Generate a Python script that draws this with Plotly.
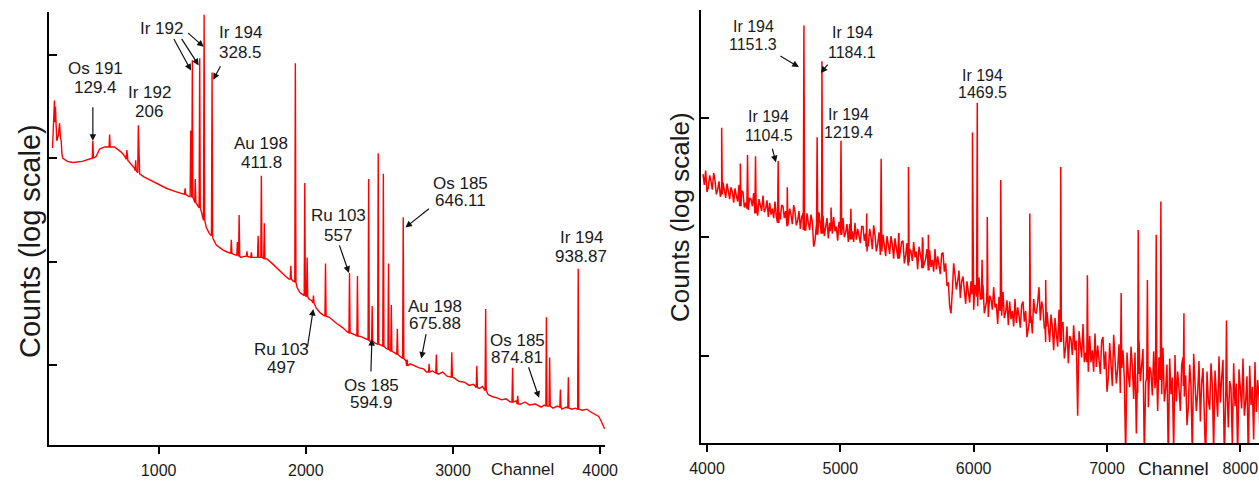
import plotly.graph_objects as go

# ---------------- DATA (channel, log10 counts) ----------------
# Left panel: continuum
left_bg_channel = [279, 286, 292, 296, 299, 304, 308, 318, 327, 333, 338, 343, 349, 380, 417, 480,
                   542, 576, 599, 633, 700, 746, 770, 791, 815, 837, 871, 900, 939, 1000, 1052,
                   1110, 1166, 1205, 1240, 1262, 1293, 1324, 1345, 1370, 1392, 1420, 1438, 1470,
                   1510, 1560, 1580, 1650, 1690, 1740, 1780, 1820, 1860, 1885, 1915, 1940, 1960,
                   1980, 2020, 2040, 2070, 2100, 2160, 2210, 2250, 2280, 2320, 2380, 2410, 2440,
                   2470, 2510, 2545, 2600, 2640, 2680, 2710, 2740, 2770, 2800, 2820, 2860, 2900,
                   2930, 2960, 3010, 3040, 3080, 3110, 3140, 3180, 3200, 3240, 3270, 3300, 3330,
                   3360, 3390, 3430, 3460, 3490, 3520, 3560, 3600, 3620, 3680, 3710, 3740, 3770,
                   3810, 3830, 3880, 3910, 3940, 3970, 3990, 4005, 4020, 4030]
left_bg_log_counts = [3.10, 3.30, 3.56, 3.35, 3.50, 3.30, 3.17, 3.22, 3.34, 3.20, 3.17, 3.04, 3.00,
                      2.97, 2.96, 2.97, 3.00, 3.02, 3.09, 3.11, 3.11, 3.06, 3.02, 2.98, 2.94, 2.90,
                      2.85, 2.82, 2.79, 2.75, 2.71, 2.68, 2.66, 2.63, 2.60, 2.55, 2.47, 2.33, 2.27,
                      2.22, 2.16, 2.13, 2.11, 2.09, 2.07, 2.04, 2.05, 2.04, 2.04, 2.02, 1.97, 1.91,
                      1.86, 1.83, 1.81, 1.75, 1.70, 1.68, 1.64, 1.62, 1.55, 1.50, 1.46, 1.40, 1.36,
                      1.32, 1.30, 1.27, 1.25, 1.22, 1.21, 1.19, 1.16, 1.12, 1.08, 1.04, 1.01, 0.99,
                      0.97, 0.96, 0.93, 0.94, 0.91, 0.93, 0.89, 0.87, 0.84, 0.83, 0.80, 0.81, 0.77,
                      0.79, 0.71, 0.69, 0.68, 0.66, 0.67, 0.64, 0.65, 0.62, 0.64, 0.61, 0.62, 0.59,
                      0.61, 0.58, 0.60, 0.57, 0.59, 0.57, 0.58, 0.56, 0.57, 0.54, 0.52, 0.50, 0.46,
                      0.42, 0.38]
# Left panel: peaks (channel, top, foot)
left_peak_channel = [553, 667, 784, 844, 862, 1180, 1218, 1229, 1249, 1279, 1309, 1363, 1494, 1535,
                     1547, 1600, 1630, 1676, 1698, 1718, 1898, 1929, 1993, 2009, 2052, 2134, 2297,
                     2351, 2427, 2451, 2492, 2527, 2562, 2581, 2622, 2662, 2689, 2838, 2887, 2992,
                     3162, 3222, 3405, 3440, 3635, 3657, 3730, 3784, 3851]
left_peak_log_top = [3.17, 3.23, 3.08, 2.98, 3.32, 2.71, 3.27, 3.95, 2.80, 3.97, 4.39, 3.83, 2.21,
                     2.19, 2.45, 2.10, 2.09, 2.25, 2.83, 2.37, 1.96, 3.92, 2.76, 2.04, 1.67, 1.98,
                     1.89, 1.86, 2.80, 1.57, 3.05, 2.85, 1.98, 1.58, 1.35, 2.43, 1.05, 1.01, 1.10,
                     1.12, 0.99, 1.54, 0.97, 0.70, 1.46, 1.07, 0.76, 0.88, 1.93]
left_peak_log_base = [3.00, 3.11, 2.99, 2.88, 2.86, 2.65, 2.63, 2.62, 2.57, 2.52, 2.40, 2.25, 2.08,
                      2.06, 2.05, 2.05, 2.04, 2.04, 2.04, 2.03, 1.83, 1.80, 1.67, 1.66, 1.60, 1.47,
                      1.31, 1.28, 1.24, 1.23, 1.20, 1.18, 1.15, 1.13, 1.10, 1.06, 0.99, 0.93, 0.92,
                      0.88, 0.78, 0.75, 0.64, 0.62, 0.60, 0.60, 0.59, 0.58, 0.57]

# Right panel: noisy continuum, one reading every 10 channels from 3970 to 8160
right_bg_first, right_bg_last, right_bg_step = 3970, 8160, 10
right_bg_log_counts = [
    2.53, 2.44, 2.56, 2.38, 2.42, 2.52, 2.47, 2.40, 2.54, 2.48, 2.36, 2.40, 2.47, 2.34, 2.43, 2.46, 2.38, 2.33, 2.45, 2.39,
    2.32, 2.42, 2.38, 2.29, 2.41, 2.35, 2.30, 2.44, 2.34, 2.39, 2.38, 2.25, 2.29, 2.37, 2.23, 2.33, 2.32, 2.26, 2.37, 2.28,
    2.29, 2.18, 2.32, 2.27, 2.22, 2.35, 2.21, 2.24, 2.31, 2.17, 2.29, 2.19, 2.24, 2.16, 2.30, 2.17, 2.26, 2.21, 2.15, 2.27,
    2.26, 2.16, 2.22, 2.09, 2.13, 2.24, 2.19, 2.11, 2.27, 2.21, 2.10, 2.14, 2.22, 2.07, 2.17, 2.20, 2.11, 2.06, 2.20, 2.12,
    2.06, 2.19, 2.13, 1.92, 1.97, 2.10, 2.04, 2.21, 2.08, 2.15, 2.18, 2.01, 2.07, 2.16, 1.99, 2.12, 2.10, 2.03, 2.17, 2.05,
    2.09, 1.97, 2.13, 2.07, 2.02, 2.16, 2.00, 2.04, 2.11, 1.96, 2.11, 2.00, 2.05, 1.96, 2.12, 1.98, 2.07, 2.02, 1.95, 2.09,
    2.09, 1.97, 2.03, 1.88, 1.93, 2.07, 2.00, 1.90, 2.10, 2.02, 1.88, 1.94, 2.04, 1.85, 1.97, 2.02, 1.91, 1.84, 2.01, 1.92,
    1.86, 2.01, 1.94, 1.82, 1.99, 1.91, 1.84, 2.03, 1.89, 1.96, 1.97, 1.78, 1.85, 1.95, 1.76, 1.90, 1.88, 1.80, 1.96, 1.83,
    1.88, 1.73, 1.92, 1.85, 1.79, 1.96, 1.77, 1.82, 1.90, 1.72, 1.89, 1.75, 1.81, 1.71, 1.90, 1.73, 1.84, 1.78, 1.69, 1.86,
    1.87, 1.71, 1.78, 1.59, 1.62, 1.42, 1.36, 1.55, 1.78, 1.68, 1.56, 1.63, 1.72, 1.49, 1.63, 1.67, 1.53, 1.44, 1.63, 1.51,
    1.45, 1.63, 1.55, 1.39, 1.60, 1.51, 1.42, 1.66, 1.48, 1.58, 1.60, 1.36, 1.44, 1.57, 1.33, 1.51, 1.48, 1.39, 1.58, 1.41,
    1.44, 1.27, 1.50, 1.41, 1.34, 1.54, 1.32, 1.37, 1.47, 1.26, 1.46, 1.31, 1.38, 1.25, 1.48, 1.28, 1.41, 1.34, 1.24, 1.43,
    1.46, 1.29, 1.38, 1.16, 1.24, 1.43, 1.34, 1.19, 1.48, 1.37, 1.36, 1.45, 1.58, 1.30, 1.46, 1.40, 1.23, 1.12, 1.37, 1.23,
    1.12, 1.35, 1.25, 1.05, 1.32, 1.19, 1.08, 1.39, 1.16, 1.28, 1.28, 0.98, 1.08, 1.25, 0.94, 1.17, 1.14, 1.01, 1.26, 1.05,
    1.13, 0.50, 1.21, 1.09, 0.99, 1.27, 0.95, 1.03, 1.17, 0.87, 1.17, 0.95, 1.05, 0.87, 1.19, 0.91, 1.09, 0.99, 0.85, 1.13,
    1.16, 0.89, 1.04, 0.70, 0.82, 1.11, 0.96, 0.75, 1.18, 1.01, 0.77, 0.89, 1.10, 0.69, 0.96, 1.05, 0.81, 0.15, 1.03, 0.84,
    0.74, 1.08, 0.92, 0.64, 1.03, 0.35, 0.69, 1.13, 0.79, 0.97, 1.06, 0.15, 0.78, 1.01, 0.57, 0.91, 0.86, 0.67, 1.04, 0.73,
    0.87, 0.54, 0.99, 0.82, 0.68, 1.07, 0.62, 0.73, 0.93, 0.10, 0.98, 0.68, 0.82, 0.20, 1.01, 0.62, 0.87, 0.73, 0.54, 0.93,
    0.99, 0.66, 0.84, 0.42, 0.57, 0.93, 0.75, 0.15, 1.02, 0.81, 0.54, 0.69, 0.96, 0.45, 0.78, 0.90, 0.60, 0.10, 0.87, 0.63,
    0.55, 0.94, 0.76, 0.20, 0.88, 0.67, 0.49, 1.00, 0.61, 0.82, 0.97, 0.12, 0.64, 0.91, 0.40, 0.79, 0.73, 0.25, 0.94, 0.58,
    0.77, 0.15, 0.89, 0.71, 0.56, 0.98, 0.50, 0.62, 0.83, 0.10, 0.92, 0.59, 0.74, 0.30, 0.95, 0.53, 0.80, 0.65, 0.20, 0.86,
]
right_peak_channel = [4110, 4250, 4304, 4364, 4534, 4602, 4727, 4826, 4862, 4930, 5005, 5079, 5198,
                      5306, 5437, 5511, 5616, 5660, 5991, 6027, 6063, 6102, 6203, 6421, 6540, 6653,
                      6853, 7106, 7234, 7303, 7369, 7404, 7577, 7896]
right_peak_log_top = [2.92, 2.62, 2.69, 2.68, 2.64, 2.42, 3.78, 2.84, 3.48, 2.25, 2.81, 2.24, 2.20,
                      2.66, 2.03, 2.59, 2.00, 2.02, 2.88, 3.13, 1.81, 2.17, 2.48, 2.20, 1.64, 2.59,
                      1.68, 1.53, 2.06, 1.64, 2.02, 2.30, 1.36, 1.30]
right_peak_log_base = [2.36, 2.26, 2.24, 2.20, 2.12, 2.10, 2.06, 2.02, 2.03, 2.05, 2.02, 1.98, 1.92,
                       1.88, 1.82, 1.79, 1.74, 1.72, 1.52, 1.50, 1.48, 1.46, 1.38, 1.28, 1.25, 1.12,
                       0.95, 0.90, 0.85, 0.82, 0.80, 0.80, 0.75, 0.70]

# Peak labels
left_label_nuclide = ["Os 191", "Ir 192", "Ir 194", "Au 198", "Ru 103", "Os 185", "Ir 194",
                      "Au 198", "Os 185", "Ru 103", "Os 185"]
left_label_energy = ["129.4", "206", "328.5", "411.8", "557", "646.11", "938.87",
                     "675.88", "874.81", "497", "594.9"]
left_arrow_channel = [553, None, 1371, None, 2293, 2677, None, 2785, 3585, 2051, 2449]
left_arrow_log_counts = [3.17, None, 3.76, None, 1.89, 2.33, None, 1.06, 0.68, 1.54, 1.25]
# the lone "Ir 192" label pointing at three peaks
ir192_arrow_channel = [1220, 1272, 1306]
ir192_arrow_log_counts = [3.85, 3.90, 4.08]

right_label_nuclide = ["Ir 194", "Ir 194", "Ir 194", "Ir 194", "Ir 194"]
right_label_energy = ["1151.3", "1184.1", "1104.5", "1219.4", "1469.5"]
right_arrow_channel = [4689, 4854, 4517, None, None]
right_arrow_log_counts = [3.43, 3.38, 2.63, None, None]

left_xticks = [1000, 2000, 3000, 4000]
right_xticks = [4000, 5000, 6000, 7000, 8000]
left_yticks = [10, 100, 1000, 10000]
right_yticks = [10, 100, 1000]

# ---------------- BUILD SPECTRA ----------------
def build(bg_ch, bg_l, pk_ch, pk_top, pk_base, half):
    pts = [(c, l) for c, l in zip(bg_ch, bg_l)]
    for c, t, b in zip(pk_ch, pk_top, pk_base):
        pts += [(c - half, b), (c, t), (c + half, b)]
    pts.sort(key=lambda p: p[0])
    return [p[0] for p in pts], [10 ** p[1] for p in pts]

lx, ly = build(left_bg_channel, left_bg_log_counts, left_peak_channel,
               left_peak_log_top, left_peak_log_base, 4)
right_bg_channel = list(range(right_bg_first, right_bg_last + 1, right_bg_step))
rx, ry = build(right_bg_channel, right_bg_log_counts, right_peak_channel,
               right_peak_log_top, right_peak_log_base, 5)

W, H = 1259, 481
RED = "#ff0000"
FONT = "Liberation Sans, Arial, sans-serif"
TXT = "#1a1a1a"

fig = go.Figure()
fig.add_trace(go.Scatter(x=lx, y=ly, mode="lines", line=dict(color=RED, width=1.4),
                         xaxis="x", yaxis="y", hoverinfo="skip", showlegend=False))
fig.add_trace(go.Scatter(x=rx, y=ry, mode="lines", line=dict(color=RED, width=1.5),
                         xaxis="x2", yaxis="y2", hoverinfo="skip", showlegend=False))

def px2paper(x, y):
    return x / W, 1 - y / H

axis_common = dict(showline=True, linecolor="black", linewidth=2, showgrid=False,
                   zeroline=False, mirror=False, tickcolor="black", tickwidth=2,
                   automargin=False)

fig.update_layout(
    width=W, height=H, margin=dict(l=0, r=0, t=0, b=0, pad=0, autoexpand=False),
    paper_bgcolor="white", plot_bgcolor="white", showlegend=False,
    font=dict(family=FONT, color=TXT),
    xaxis=dict(domain=[49 / W, 605 / W], range=[255, 4033], tickvals=left_xticks,
               ticks="outside", ticklen=7, tickfont=dict(size=16, color=TXT),
               ticklabelstandoff=3, anchor="y", **axis_common),
    yaxis=dict(domain=[(H - 445) / H, (H - 12) / H], type="log", range=[0.223, 4.417],
               tickvals=left_yticks, ticks="inside", ticklen=8, showticklabels=False,
               anchor="x", **axis_common),
    xaxis2=dict(domain=[701 / W, 1.0], range=[3955, 8140], tickvals=right_xticks,
                ticks="outside", ticklen=7, tickfont=dict(size=16, color=TXT),
                ticklabelstandoff=3, anchor="y2", **axis_common),
    yaxis2=dict(domain=[(H - 443) / H, (H - 10) / H], type="log", range=[0.27, 3.91],
                tickvals=right_yticks, ticks="inside", ticklen=8, showticklabels=False,
                anchor="x2", **axis_common),
)

ann = []
def text_ann(s, x, y, size):
    px, py = px2paper(x, y)
    ann.append(dict(text=s, x=px, y=py, xref="paper", yref="paper", showarrow=False,
                    xanchor="center", yanchor="middle", font=dict(size=size, color=TXT, family=FONT)))

def arrow_ann(ch, logc, ax, ay, xr, yr):
    ann.append(dict(text="", x=ch, y=logc, xref=xr, yref=yr, showarrow=True, ax=ax, ay=ay,
                    arrowhead=2, arrowsize=1.1, arrowwidth=1.2, arrowcolor="#111"))

# axis titles
text_ann("Channel", 522, 469, 17)
text_ann("Channel", 1173, 468, 19)
for x, y, size in [(30, 241, 29), (680, 217, 26)]:
    px, py = px2paper(x, y)
    ann.append(dict(text="Counts (log scale)", x=px, y=py, xref="paper", yref="paper",
                    showarrow=False, textangle=-90, xanchor="center", yanchor="middle",
                    font=dict(size=size, color=TXT, family=FONT)))

left_text_pos = [(95, 68, 87), (149, 93, 111), (240, 33, 52), (261, 143, 162), (338, 215, 235),
                 (460, 183, 200), (581, 237, 256), (435, 306, 323), (517, 340, 357),
                 (281, 349, 367), (371, 385, 402)]
left_arrow_tail = [(0, -35), None, (8, -15), None, (-10, -29), (25, -20), None, (5, -26),
                   (-11, -32), (-6, 39), (-1, 34)]
for i, (x, y1, y2) in enumerate(left_text_pos):
    text_ann(left_label_nuclide[i], x, y1, 17)
    text_ann(left_label_energy[i], x, y2, 17)
    if left_arrow_channel[i] is not None:
        ax, ay = left_arrow_tail[i]
        arrow_ann(left_arrow_channel[i], left_arrow_log_counts[i], ax, ay, "x", "y")

text_ann("Ir 192", 161, 29, 17)
for ch, lc, (ax, ay) in zip(ir192_arrow_channel, ir192_arrow_log_counts,
                            [(-18, -33), (-18, -28), (-17, -15)]):
    arrow_ann(ch, lc, ax, ay, "x", "y")

right_text_pos = [(753, 26, 45), (852, 32, 52), (769, 117, 135), (848, 114, 132), (982, 75, 92)]
right_arrow_tail = [(-20, -12), (8, -10), (-4, -15), None, None]
for i, (x, y1, y2) in enumerate(right_text_pos):
    text_ann(right_label_nuclide[i], x, y1, 16)
    text_ann(right_label_energy[i], x, y2, 16)
    if right_arrow_channel[i] is not None:
        ax, ay = right_arrow_tail[i]
        arrow_ann(right_arrow_channel[i], right_arrow_log_counts[i], ax, ay, "x2", "y2")

fig.update_layout(annotations=ann)
fig.write_html("out.html", config=dict(responsive=False, displayModeBar=False))

# remove the browser's default page margin so the figure sits at (0, 0)
with open("out.html", encoding="utf-8") as f:
    html = f.read()
html = html.replace("<head>", "<head><style>html,body{margin:0;padding:0;overflow:hidden;}</style>", 1)
with open("out.html", "w", encoding="utf-8") as f:
    f.write(html)
